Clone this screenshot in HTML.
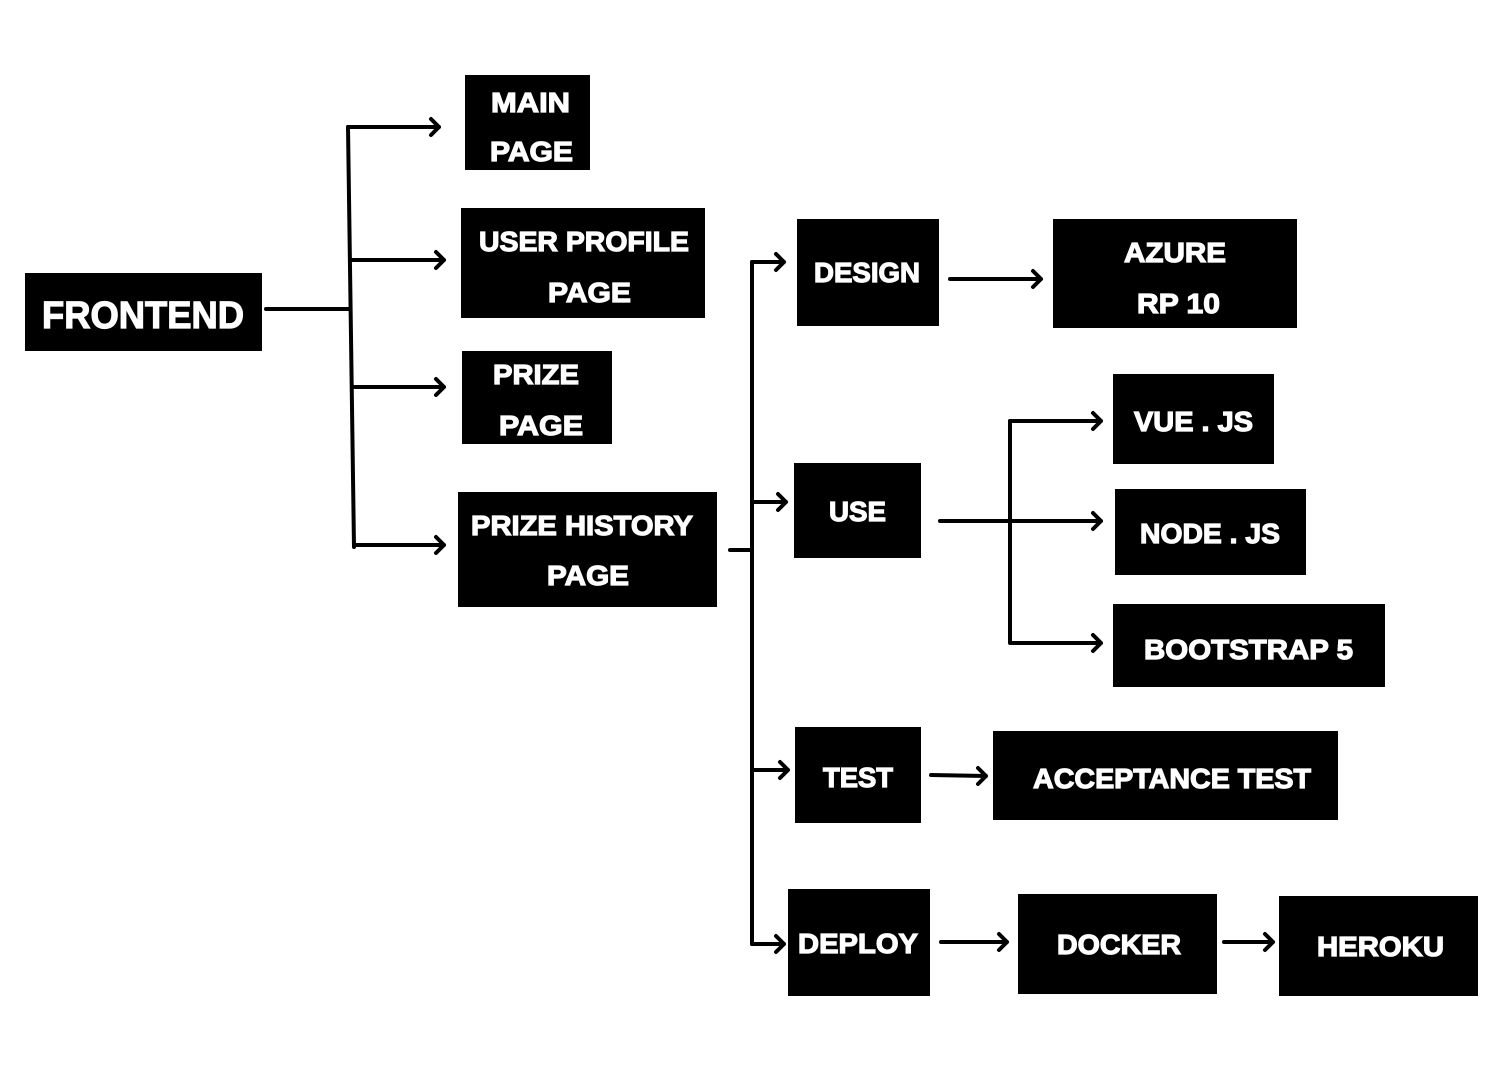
<!DOCTYPE html>
<html><head><meta charset="utf-8"><style>html,body{margin:0;padding:0;background:#fff;}svg{display:block}</style></head>
<body>
<svg width="1506" height="1076" viewBox="0 0 1506 1076" xmlns="http://www.w3.org/2000/svg">
<g fill="#000">
<rect x="25" y="273" width="237" height="78"/>
<rect x="465" y="75" width="125" height="95"/>
<rect x="461" y="208" width="244" height="110"/>
<rect x="462" y="351" width="150" height="93"/>
<rect x="458" y="492" width="259" height="115"/>
<rect x="797" y="219" width="142" height="107"/>
<rect x="1053" y="219" width="244" height="109"/>
<rect x="794" y="463" width="127" height="95"/>
<rect x="1113" y="374" width="161" height="90"/>
<rect x="1115" y="489" width="191" height="86"/>
<rect x="1113" y="604" width="272" height="83"/>
<rect x="795" y="727" width="126" height="96"/>
<rect x="993" y="731" width="345" height="89"/>
<rect x="788" y="889" width="142" height="107"/>
<rect x="1018" y="894" width="199" height="100"/>
<rect x="1279" y="896" width="199" height="100"/>
</g>
<g fill="none" stroke="#000" stroke-width="4" stroke-linecap="round" stroke-linejoin="round">
<path d="M266 309 H349"/>
<path d="M348 127 L354 547"/>
<path d="M348 127 H439 M431 119 L439 127 L431 135"/>
<path d="M351 260 H444 M436 252 L444 260 L436 268"/>
<path d="M352 387 H444 M436 379 L444 387 L436 395"/>
<path d="M354 545 H444 M436 537 L444 545 L436 553"/>
<path d="M730 550 H752"/>
<path d="M752 262 V944"/>
<path d="M752 262 H784 M776 254 L784 262 L776 270"/>
<path d="M752 502 H786 M778 494 L786 502 L778 510"/>
<path d="M752 770 H788 M780 762 L788 770 L780 778"/>
<path d="M752 944 H784 M776 936 L784 944 L776 952"/>
<path d="M950 279 H1041 M1033 271 L1041 279 L1033 287"/>
<path d="M940 521 H1101 M1093 513 L1101 521 L1093 529"/>
<path d="M1010 421 V643"/>
<path d="M1010 421 H1101 M1093 413 L1101 421 L1093 429"/>
<path d="M1012 643 H1101 M1093 635 L1101 643 L1093 651"/>
<path d="M931 775 L986 776 M978 768 L986 776 L978 784"/>
<path d="M941 942 H1007 M999 934 L1007 942 L999 950"/>
<path d="M1224 942 H1273 M1265 934 L1273 942 L1265 950"/>
</g>
<g fill="#fff" stroke="#fff" stroke-width="1.2" font-family="Liberation Sans, sans-serif" font-weight="bold" font-size="28">
<text x="42" y="328" font-size="38" textLength="202" lengthAdjust="spacingAndGlyphs">FRONTEND</text>
<text x="491" y="112" textLength="79" lengthAdjust="spacingAndGlyphs">MAIN</text>
<text x="490" y="161" textLength="83" lengthAdjust="spacingAndGlyphs">PAGE</text>
<text x="479" y="251" textLength="210" lengthAdjust="spacingAndGlyphs">USER PROFILE</text>
<text x="548" y="302" textLength="83" lengthAdjust="spacingAndGlyphs">PAGE</text>
<text x="493" y="384" textLength="86" lengthAdjust="spacingAndGlyphs">PRIZE</text>
<text x="499" y="435" textLength="84" lengthAdjust="spacingAndGlyphs">PAGE</text>
<text x="471" y="535" textLength="222" lengthAdjust="spacingAndGlyphs">PRIZE HISTORY</text>
<text x="547" y="585" textLength="82" lengthAdjust="spacingAndGlyphs">PAGE</text>
<text x="814" y="282" textLength="106" lengthAdjust="spacingAndGlyphs">DESIGN</text>
<text x="1124" y="262" textLength="102" lengthAdjust="spacingAndGlyphs">AZURE</text>
<text x="1137" y="313" textLength="83" lengthAdjust="spacingAndGlyphs">RP 10</text>
<text x="829" y="521" textLength="57" lengthAdjust="spacingAndGlyphs">USE</text>
<text x="1134" y="431" textLength="119" lengthAdjust="spacingAndGlyphs">VUE . JS</text>
<text x="1140" y="543" textLength="140" lengthAdjust="spacingAndGlyphs">NODE . JS</text>
<text x="1144" y="659" textLength="209" lengthAdjust="spacingAndGlyphs">BOOTSTRAP 5</text>
<text x="823" y="787" textLength="70" lengthAdjust="spacingAndGlyphs">TEST</text>
<text x="1033" y="788" textLength="278" lengthAdjust="spacingAndGlyphs">ACCEPTANCE TEST</text>
<text x="798" y="953" textLength="120" lengthAdjust="spacingAndGlyphs">DEPLOY</text>
<text x="1057" y="954" textLength="124" lengthAdjust="spacingAndGlyphs">DOCKER</text>
<text x="1317" y="956" textLength="127" lengthAdjust="spacingAndGlyphs">HEROKU</text>
</g>
</svg>
</body></html>
